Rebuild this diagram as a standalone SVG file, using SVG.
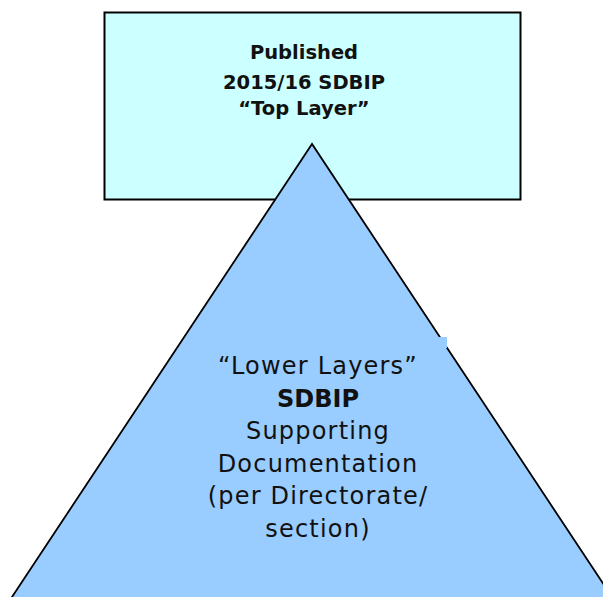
<svg xmlns="http://www.w3.org/2000/svg" width="603" height="597" viewBox="0 0 603 597">
<style>
.t{font-family:"DejaVu Sans","Liberation Sans",sans-serif;fill:#111;text-anchor:middle}
.top{font-size:19.5px;font-weight:bold}
.low{font-size:24px;letter-spacing:1.2px}
</style>
<rect width="603" height="597" fill="#fff"/>
<g id="top-box">
<rect x="104.5" y="12.5" width="416" height="187" fill="#CCFFFF" stroke="#000" stroke-width="2"/>
<text class="t top" x="304" y="59">Published</text>
<text class="t top" x="304" y="89">2015/16 SDBIP</text>
<text class="t top" x="304" y="115">“Top Layer”</text>
</g>
<g id="pyramid">
<polygon points="312,144 10,600 614,600" fill="#99CCFF" stroke="#000" stroke-width="1.8"/>
<rect x="439" y="337" width="8" height="11" fill="#99CCFF"/>
<text class="t low" x="318" y="374">“Lower Layers”</text>
<text class="t low" x="318" y="407" font-weight="bold" style="letter-spacing:0">SDBIP</text>
<text class="t low" x="318" y="439">Supporting</text>
<text class="t low" x="318" y="472">Documentation</text>
<text class="t low" x="318" y="504">(per Directorate/</text>
<text class="t low" x="318" y="537">section)</text>
</g>
</svg>
